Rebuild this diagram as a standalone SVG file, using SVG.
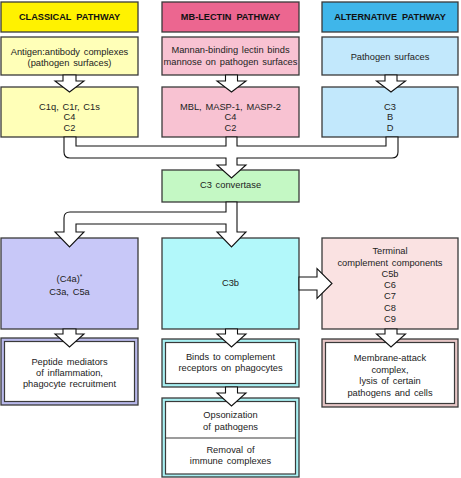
<svg xmlns="http://www.w3.org/2000/svg" width="461" height="478" viewBox="0 0 461 478">
<style>
text{font-family:"Liberation Sans",Arial,sans-serif;font-size:9.3px;fill:#222;text-anchor:middle;word-spacing:1.2px}
.h{font-weight:bold;font-size:9.2px;word-spacing:2.5px;fill:#111}
.b{stroke:#3a3a3a;stroke-width:1.3}
.ar{fill:#fff;stroke:#111;stroke-width:1.1;stroke-linejoin:miter}
.in{fill:#fff;stroke:#3a3a3a;stroke-width:1.2}
</style>
<rect width="461" height="478" fill="#fff"/>

<g id="classical-header"><rect class="b" x="1" y="2" width="137" height="30" fill="#fff200"/><text class="h" x="69.5" y="20.3">CLASSICAL PATHWAY</text></g>
<g id="classical-trigger"><rect class="b" x="1" y="37" width="137" height="38" fill="#ffffb8"/><text x="69.5" y="55.3">Antigen:antibody complexes</text><text x="69.5" y="66.3">(pathogen surfaces)</text></g>
<g id="classical-components"><rect class="b" x="1" y="87" width="137" height="50" fill="#ffffb8"/><text x="69.5" y="109.5">C1q, C1r, C1s</text><text x="69.5" y="120">C4</text><text x="69.5" y="130.5">C2</text></g>

<g id="lectin-header"><rect class="b" x="162" y="2" width="137" height="30" fill="#ec6690"/><text class="h" x="230.5" y="20.3">MB-LECTIN PATHWAY</text></g>
<g id="lectin-trigger"><rect class="b" x="162" y="37" width="137" height="38" fill="#f8c2d2"/><text x="230.5" y="53.3">Mannan-binding lectin binds</text><text x="230.5" y="65">mannose on pathogen surfaces</text></g>
<g id="lectin-components"><rect class="b" x="162" y="87" width="137" height="50" fill="#f8c2d2"/><text x="230.5" y="109.5">MBL, MASP-1, MASP-2</text><text x="230.5" y="120">C4</text><text x="230.5" y="130.5">C2</text></g>

<g id="alt-header"><rect class="b" x="322" y="2" width="136" height="30" fill="#3fb6ea"/><text class="h" x="390" y="20.3">ALTERNATIVE PATHWAY</text></g>
<g id="alt-trigger"><rect class="b" x="322" y="37" width="136" height="38" fill="#c2e8fc"/><text x="390" y="60.3">Pathogen surfaces</text></g>
<g id="alt-components"><rect class="b" x="322" y="87" width="136" height="50" fill="#c2e8fc"/><text x="390" y="109.5">C3</text><text x="390" y="120">B</text><text x="390" y="130.5">D</text></g>

<g id="c3-convertase"><rect class="b" x="162" y="170" width="137" height="32" fill="#c4f8c4"/><text x="230.5" y="188.3">C3 convertase</text></g>

<g id="anaphylatoxins"><rect class="b" x="1" y="238" width="137" height="91" fill="#c8c8f8"/><text x="69.5" y="282.3">(C4a)<tspan font-size="6.5" dy="-3.5">*</tspan></text><text x="69.5" y="295.3">C3a, C5a</text></g>
<g id="c3b"><rect class="b" x="162" y="238" width="137" height="91" fill="#b2f8fa"/><text x="230.5" y="286.3">C3b</text></g>
<g id="terminal"><rect class="b" x="322" y="238" width="136" height="91" fill="#fae2e2"/><text x="390" y="254.2">Terminal</text><text x="390" y="265.5">complement components</text><text x="390" y="276.8">C5b</text><text x="390" y="288">C6</text><text x="390" y="299.3">C7</text><text x="390" y="310.5">C8</text><text x="390" y="321.8">C9</text></g>

<g id="peptide-mediators"><rect class="b" x="1" y="338" width="137" height="67" fill="#b8b8ea" stroke="#303050"/><rect class="in" x="4.5" y="341.5" width="130" height="60"/><text x="69.5" y="365">Peptide mediators</text><text x="69.5" y="376">of inflammation,</text><text x="69.5" y="387">phagocyte recruitment</text></g>
<g id="binds-receptors"><rect class="b" x="162" y="339" width="137" height="48" fill="#a8f0f2"/><rect class="in" x="165.5" y="342.5" width="130" height="41"/><text x="230.5" y="360">Binds to complement</text><text x="230.5" y="371">receptors on phagocytes</text></g>
<g id="membrane-attack"><rect class="b" x="322" y="339" width="136" height="68" fill="#e6c6c6"/><rect class="in" x="325.5" y="342.5" width="129" height="61"/><text x="390" y="361">Membrane-attack</text><text x="390" y="372.5">complex,</text><text x="390" y="384">lysis of certain</text><text x="390" y="395.5">pathogens and cells</text></g>
<g id="opsonization"><rect class="b" x="162" y="398" width="137" height="79" fill="#a8f0f2"/><rect class="in" x="165.5" y="401.5" width="130" height="72.5"/><line x1="165.5" y1="438" x2="295.5" y2="438" stroke="#3a3a3a" stroke-width="1.2"/><text x="230.5" y="418">Opsonization</text><text x="230.5" y="430">of pathogens</text><text x="230.5" y="453">Removal of</text><text x="230.5" y="464">immune complexes</text></g>

<g id="connectors">
<path class="ar" d="M63,75 V81 H55 L69.5,92 L84,81 H76 V75 Z"/>
<path class="ar" d="M225.5,75 V81 H217 L231.5,92 L246,81 H237.5 V75 Z"/>
<path class="ar" d="M385,75 V81 H376.5 L391,92 L405.5,81 H397 V75 Z"/>
<path class="ar" d="M64,137 V152 Q64,158 70,158 H226 V165 H217 L231.5,178 L246,165 H237 V158 H392 Q398,158 398,152 V137 H386 V146 H237 V137 H226 V146 H76 V137 Z"/>
<path class="ar" d="M226,202 V212 H70 Q64,212 64,218 V232 H55 L69.5,247 L84,232 H76 V224 H226 V232 H217 L231.5,247 L246,232 H237 V202 Z"/>
<path class="ar" d="M299,277 H317 V268.5 L332,283.5 L317,298.5 V290 H299 Z"/>
<path class="ar" d="M63,329 V334 H55 L69.5,347 L84,334 H76 V329 Z"/>
<path class="ar" d="M225.5,329 V334 H217 L231.5,347 L246,334 H237.5 V329 Z"/>
<path class="ar" d="M385,329 V334 H376.5 L391,347 L405.5,334 H397 V329 Z"/>
<path class="ar" d="M225.5,387 V393 H217 L231.5,406 L246,393 H237.5 V387 Z"/>
</g>
</svg>
